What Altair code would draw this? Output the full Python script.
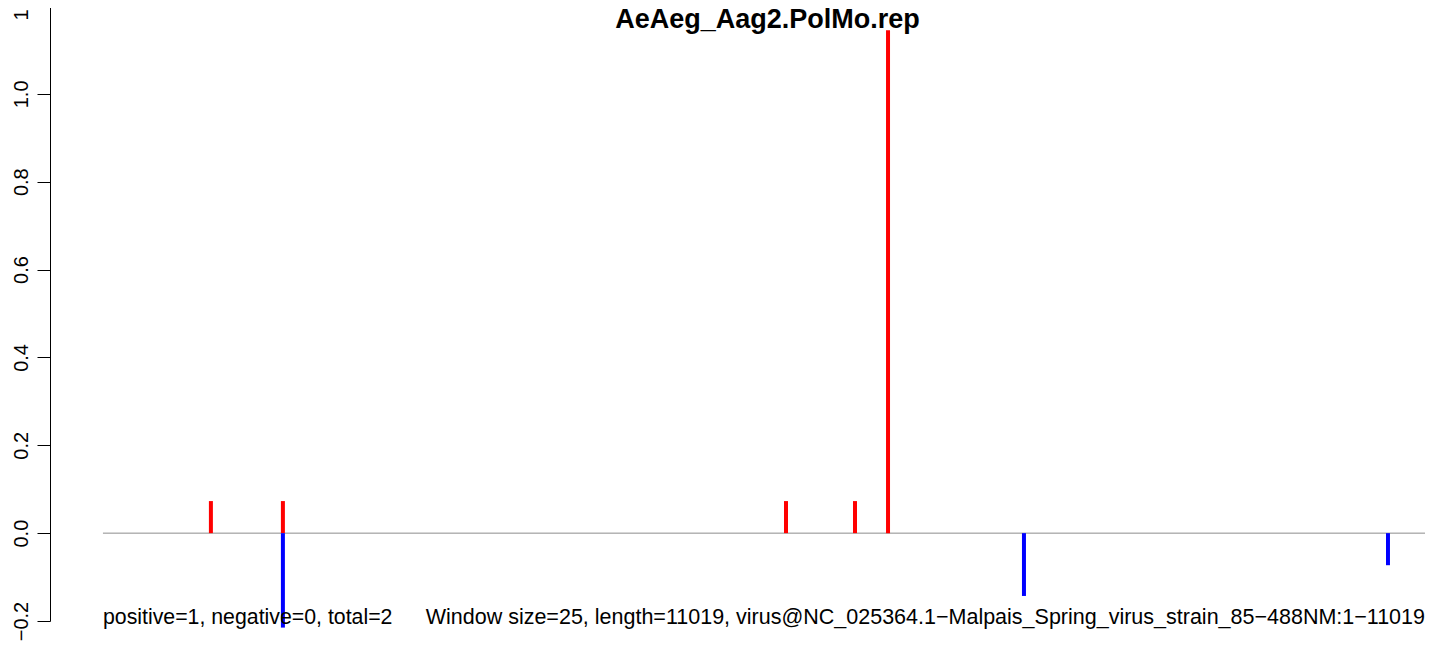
import altair as alt
import pandas as pd

# ---- data ----
seq_length = 11019
pos_x = [895, 1492, 5663, 6235, 6509]
pos_y = [0.073, 0.073, 0.073, 0.073, 1.145]
neg_x = [1492, 7636, 10654]
neg_y = [-0.215, -0.143, -0.073]
y_ticks = [-0.2, 0.0, 0.2, 0.4, 0.6, 0.8, 1.0, 1.2]
x_domain = [-439, 10961]
y_domain = [-0.2, 1.2]

title_text = "AeAeg_Aag2.PolMo.rep"
left_note = "positive=1, negative=0, total=2"
right_note = ("Window size=25, length=11019, "
              "virus@NC_025364.1\u2212Malpais_Spring_virus_strain_85\u2212488NM:1\u221211019")

FONT = "Liberation Sans"

bars = pd.DataFrame({
    "x": pos_x + neg_x,
    "y": pos_y + neg_y,
    "y0": [0.0] * (len(pos_x) + len(neg_x)),
    "sign": ["pos"] * len(pos_x) + ["neg"] * len(neg_x),
})
zero_line = pd.DataFrame({"x": [0], "x2": [x_domain[1]], "y": [0.0]})
left_df = pd.DataFrame({"x": [0], "y": [-0.2068], "label": [left_note]})
right_df = pd.DataFrame({"x": [x_domain[1]], "y": [-0.2068], "label": [right_note]})
title_df = pd.DataFrame({"x": [seq_length / 2], "y": [1.2], "label": [title_text]})

xscale = alt.Scale(domain=x_domain, nice=False, zero=False)
yscale = alt.Scale(domain=y_domain, nice=False, zero=False)
yaxis = alt.Axis(
    values=y_ticks, format=".1f", labelAngle=270, labelAlign="center",
    labelBaseline="alphabetic", labelPadding=10, tickSize=13,
    tickColor="black", domainColor="black", labelColor="black",
    labelFont=FONT, labelFontSize=20, grid=False, title=None,
    labelFlush=False, labelOverlap=False, domainWidth=1, tickWidth=1,
)

X = alt.X("x:Q", scale=xscale, axis=None)
Y = alt.Y("y:Q", scale=yscale, axis=yaxis)

line = alt.Chart(zero_line).mark_rule(color="#8c8c8c", strokeWidth=1).encode(
    x=X, x2="x2:Q", y=Y,
)

spikes = alt.Chart(bars).mark_rule(strokeWidth=4, strokeCap="butt").encode(
    x=X, y=Y, y2="y0:Q",
    color=alt.Color("sign:N", scale=alt.Scale(domain=["pos", "neg"],
                                              range=["#ff0000", "#0000ff"]), legend=None),
)

left_txt = alt.Chart(left_df).mark_text(
    align="left", baseline="alphabetic", font=FONT, fontSize=21.3, color="black"
).encode(x=X, y=Y, text="label:N")

right_txt = alt.Chart(right_df).mark_text(
    align="right", baseline="alphabetic", font=FONT, fontSize=21.5, color="black"
).encode(x=X, y=Y, text="label:N")

title_txt = alt.Chart(title_df).mark_text(
    align="center", baseline="alphabetic", font=FONT, fontSize=27,
    fontWeight="bold", color="black", dy=22
).encode(x=X, y=Y, text="label:N")

chart = alt.layer(line, spikes, left_txt, right_txt, title_txt).properties(
    width=1375, height=615,
    padding={"left": 42, "top": -2, "right": 0, "bottom": 20},
    autosize="none",
    background="white",
).configure_view(stroke=None)

chart.save("out.html", embed_options={"renderer": "svg", "actions": False})
